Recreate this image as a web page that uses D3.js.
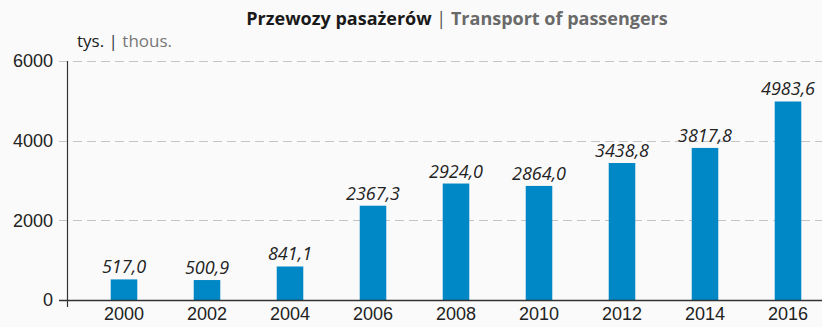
<!DOCTYPE html>
<html>
<head>
<meta charset="utf-8">
<script src="https://cdn.jsdelivr.net/npm/d3@7"></script>
<style>
  html, body { margin: 0; padding: 0; background: #fafafa; }
  svg { display: block; font-family: "Open Sans", "Noto Sans", sans-serif; }
</style>
</head>
<body>
<svg id="chart" width="822" height="327"></svg>
<script>
// Passenger transport, thousands
const years = ["2000", "2002", "2004", "2006", "2008", "2010", "2012", "2014", "2016"];
const passengers = [517.0, 500.9, 841.1, 2367.3, 2924.0, 2864.0, 3438.8, 3817.8, 4983.6];
const yTicks = [0, 2000, 4000, 6000];

const svg = d3.select("#chart");
const W = 822;

const y = d3.scaleLinear().domain([0, 6000]).range([300, 61]);
const x = d3.scaleBand().domain(years).range([82.5, 829.5])
  .paddingInner(0.68).paddingOuter(0.34);

const fmt = v => v.toFixed(1).replace(".", ",");

// dashed gridlines
svg.append("g").selectAll("line")
  .data(yTicks.filter(t => t > 0))
  .join("line")
  .attr("x1", 59).attr("x2", W)
  .attr("y1", d => Math.round(y(d)) + 0.5).attr("y2", d => Math.round(y(d)) + 0.5)
  .attr("stroke", "#c4c4c4").attr("stroke-width", 1.2)
  .attr("stroke-dasharray", "9,5");

// y axis
const yAxis = d3.axisLeft(y).tickValues(yTicks).tickSize(0).tickPadding(9)
  .tickFormat(d3.format("d"));
const gy = svg.append("g").attr("transform", "translate(67,0)").call(yAxis);
gy.select(".domain").remove();
gy.selectAll("text").attr("font-size", 18).attr("fill", "#222").attr("x", -14);

// bars
svg.append("g").selectAll("rect")
  .data(years.map((yr, i) => ({ yr, v: passengers[i] })))
  .join("rect")
  .attr("x", d => x(d.yr))
  .attr("width", x.bandwidth())
  .attr("y", d => y(d.v))
  .attr("height", d => y(0) - y(d.v))
  .attr("fill", "#0087c5");

// value labels
svg.append("g").selectAll("text")
  .data(years.map((yr, i) => ({ yr, v: passengers[i] })))
  .join("text")
  .attr("x", d => x(d.yr) + x.bandwidth() / 2)
  .attr("y", d => y(d.v) - 6)
  .attr("text-anchor", "middle")
  .attr("font-size", 18).attr("font-style", "italic").attr("fill", "#222")
  .text(d => fmt(d.v));

// axis lines
svg.append("line").attr("x1", 67.5).attr("x2", 67.5).attr("y1", 61).attr("y2", 307)
  .attr("stroke", "#333").attr("stroke-width", 1.2);
svg.append("line").attr("x1", 59).attr("x2", W).attr("y1", 300.5).attr("y2", 300.5)
  .attr("stroke", "#333").attr("stroke-width", 1.3);

// x axis labels
const xAxis = d3.axisBottom(x).tickSize(0).tickPadding(6);
const gx = svg.append("g").attr("transform", "translate(0,301)").call(xAxis);
gx.select(".domain").remove();
gx.selectAll("text").attr("font-size", 18).attr("fill", "#222");

// title
const title = svg.append("text").attr("x", 457).attr("y", 25)
  .attr("text-anchor", "middle").attr("font-size", 18).attr("font-weight", "bold");
title.append("tspan").attr("fill", "#1a1a1a").text("Przewozy pasażerów ");
title.append("tspan").attr("fill", "#555").attr("font-weight", "normal").text("|");
title.append("tspan").attr("fill", "#6a6a6a").text(" Transport of passengers");

// unit label
const unit = svg.append("text").attr("x", 77).attr("y", 47).attr("font-size", 17);
unit.append("tspan").attr("fill", "#1a1a1a").text("tys. ");
unit.append("tspan").attr("fill", "#333").text("|");
unit.append("tspan").attr("fill", "#777").text(" thous.");
</script>
</body>
</html>
